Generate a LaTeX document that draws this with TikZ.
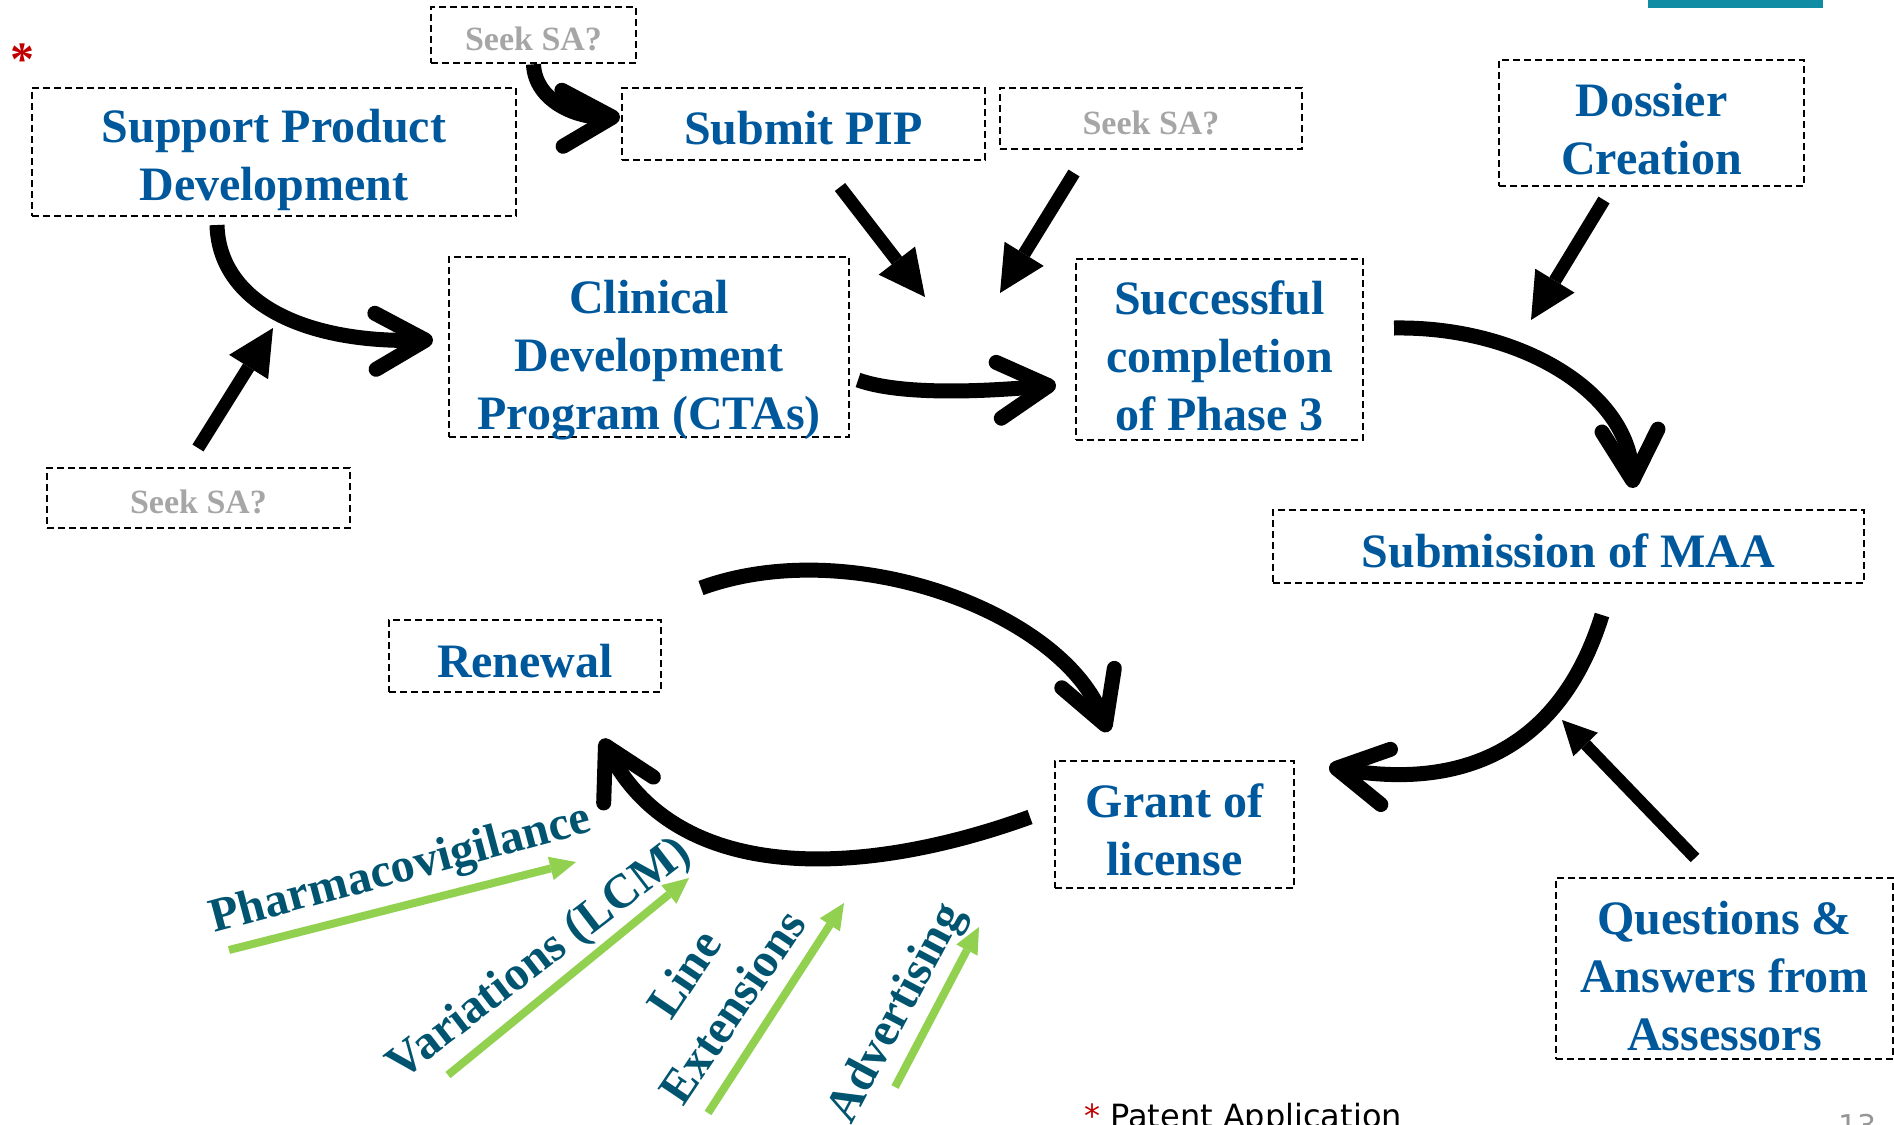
\documentclass[tikz,border=0pt]{standalone}
\usepackage{fontspec}
\setmainfont{Liberation Serif}
\newfontfamily\footfont{DejaVu Sans}
\usetikzlibrary{arrows.meta}
\definecolor{lblue}{RGB}{0,88,156}
\definecolor{lteal}{RGB}{0,84,112}
\definecolor{lgreen}{RGB}{146,208,80}
\definecolor{lgrey}{RGB}{166,166,166}
\definecolor{lred}{RGB}{192,0,0}
\definecolor{barteal}{RGB}{16,140,165}
\definecolor{pgnum}{RGB}{150,150,150}

\begin{document}
\begin{tikzpicture}[x=1pt,y=1pt,
  box/.style={draw=black, line width=2.6pt, dash pattern=on 7pt off 4pt,
    inner sep=0pt},
  boxtext/.style={inner sep=0pt, align=center, text=lblue,
    font=\bfseries\fontsize{48}{58}\selectfont},
  seektext/.style={boxtext, text=lgrey, font=\bfseries\fontsize{34}{40}\selectfont},
  curvearrow/.style={line width=15pt,
    -{Straight Barb[round,length=50pt,width=56pt]}},
  bigarrow/.style={line width=13pt,
    -{Triangle[length=46pt,width=46pt,line width=0pt]}},
  smallarrow/.style={line width=12pt,
    -{Triangle[length=34pt,width=34pt,line width=0pt]}},
  greenarrow/.style={draw=lgreen, line width=8pt,
    -{Triangle[length=26pt,width=24pt,line width=0pt]}},
  lcm/.style={inner sep=0pt, text=lteal, align=center,
    font=\bfseries\fontsize{48}{58}\selectfont},
]
\useasboundingbox (0,0) rectangle (1894,-1124);
\clip (0,0) rectangle (1894,-1124);

% top-right tab
\fill[barteal] (1648,0) rectangle (1823,-8);

% red marker
\node[text=lred, inner sep=0pt, font=\bfseries\fontsize{48}{58}\selectfont]
  (ast) at (22,-60) {*};

% dashed boxes
\node[box, minimum width=205pt, minimum height=56pt] (seekA) at (533.5,-35) {};
\node[box, minimum width=484pt, minimum height=128pt] (sup) at (274,-152) {};
\node[box, minimum width=363pt, minimum height=72pt] (pip) at (803.5,-124) {};
\node[box, minimum width=302pt, minimum height=61pt] (seekB) at (1151,-118.5) {};
\node[box, minimum width=305pt, minimum height=126pt] (dos) at (1651.5,-123) {};
\node[box, minimum width=400pt, minimum height=180pt] (cdp) at (649,-347) {};
\node[box, minimum width=287pt, minimum height=181pt] (suc) at (1219.5,-349.5) {};
\node[box, minimum width=303pt, minimum height=60pt] (seekC) at (198.5,-498) {};
\node[box, minimum width=591pt, minimum height=73pt] (maa) at (1568.5,-546.5) {};
\node[box, minimum width=272pt, minimum height=72pt] (ren) at (525,-656) {};
\node[box, minimum width=239pt, minimum height=127pt] (gra) at (1174.5,-824.5) {};
\node[box, minimum width=337pt, minimum height=181pt] (qa) at (1724.5,-968.5) {};

% box labels
\node[seektext, yshift=-4pt] (seekA-t) at (seekA.center) {Seek SA?};
\node[boxtext, yshift=-8pt] (sup-t) at (sup.center) {Support Product\\Development};
\node[boxtext, yshift=-4pt] (pip-t) at (pip.center) {Submit PIP};
\node[seektext, yshift=-4pt] (seekB-t) at (seekB.center) {Seek SA?};
\node[boxtext, yshift=-6pt] (dos-t) at (dos.center) {Dossier\\Creation};
\node[boxtext, yshift=-13pt] (cdp-t) at (cdp.center) {Clinical\\Development\\Program (CTAs)};
\node[boxtext, yshift=-6pt] (suc-t) at (suc.center) {Successful\\completion\\of Phase 3};
\node[seektext, yshift=-4pt] (seekC-t) at (seekC.center) {Seek SA?};
\node[boxtext, yshift=-4pt] (maa-t) at (maa.center) {Submission of MAA};
\node[boxtext, yshift=-5pt] (ren-t) at (ren.center) {Renewal};
\node[boxtext, yshift=-5pt] (gra-t) at (gra.center) {Grant of\\license};
\node[boxtext, yshift=-8pt] (qa-t) at (qa.center) {Questions \&\\Answers from\\Assessors};

% connector end points
\coordinate (pipIn) at (620,-117);
\coordinate (supOut) at (217,-225);
\coordinate (cdpIn) at (433,-340);
\coordinate (seekCOut) at (198,-448);
\coordinate (seekCTip) at (273,-328);
\coordinate (pipOut) at (840,-187);
\coordinate (pipTip) at (925,-297);
\coordinate (seekBOut) at (1074,-173);
\coordinate (seekBTip) at (1000,-293);
\coordinate (cdpOut) at (858,-380);
\coordinate (sucIn) at (1056,-385);
\coordinate (dosOut) at (1604,-200);
\coordinate (dosTip) at (1531,-320);
\coordinate (sucOut) at (1394,-328);
\coordinate (maaIn) at (1633,-488);
\coordinate (maaOut) at (1602,-615);
\coordinate (graIn) at (1329,-767);
\coordinate (qaOut) at (1695,-858);
\coordinate (qaTip) at (1562,-720);
\coordinate (graOut) at (1030,-817);
\coordinate (renIn) at (602,-739);
\coordinate (renOut) at (701,-588);
\coordinate (graTop) at (1108,-732);

% black connectors
\draw[curvearrow] (seekA.south) .. controls (535,-100) and (575,-118) .. (pipIn);
\draw[curvearrow] (supOut) .. controls (219,-300) and (300,-343) .. (cdpIn);
\draw[bigarrow] (seekCOut) -- (seekCTip);
\draw[bigarrow] (pipOut) -- (pipTip);
\draw[bigarrow] (seekBOut) -- (seekBTip);
\draw[curvearrow] (cdpOut) .. controls (900,-395) and (980,-392) .. (sucIn);
\draw[bigarrow] (dosOut) -- (dosTip);
\draw[curvearrow] (sucOut) .. controls (1520,-326) and (1628,-392) .. (maaIn);
\draw[curvearrow] (maaOut) .. controls (1557,-760) and (1449,-788) .. (graIn);
\draw[smallarrow] (qaOut) -- (qaTip);
\draw[curvearrow] (graOut) .. controls (870,-875) and (680,-889) .. (renIn);
\draw[curvearrow] (renOut) .. controls (851,-533) and (1064,-613) .. (graTop);

% life-cycle inputs
\coordinate (g1s) at (229,-950);  \coordinate (g1e) at (576,-862);
\coordinate (g2s) at (448,-1075); \coordinate (g2e) at (689,-878);
\coordinate (g3s) at (708,-1113); \coordinate (g3e) at (844,-903);
\coordinate (g4s) at (895,-1087); \coordinate (g4e) at (979,-927);
\draw[greenarrow] (g1s) -- (g1e);
\draw[greenarrow] (g2s) -- (g2e);
\draw[greenarrow] (g3s) -- (g3e);
\draw[greenarrow] (g4s) -- (g4e);

\node[lcm, rotate=15] (pv) at (401,-871) {Pharmacovigilance};
\node[lcm, rotate=37.5] (var) at (540,-960) {Variations (LCM)};
\node[lcm, rotate=56] (lin) at (708,-990) {Line\\Extensions};
\node[lcm, rotate=62] (adv) at (898,-1014) {Advertising};

% footer
\node[anchor=base west, inner sep=0pt, font=\footfont\fontsize{32}{38}\selectfont]
  (pat) at (1084,-1127) {\textcolor{lred}{*} Patent Application};
\node[anchor=base west, inner sep=0pt, text=pgnum, font=\footfont\fontsize{30}{36}\selectfont]
  (pg) at (1838,-1136) {13};
\end{tikzpicture}
\end{document}
